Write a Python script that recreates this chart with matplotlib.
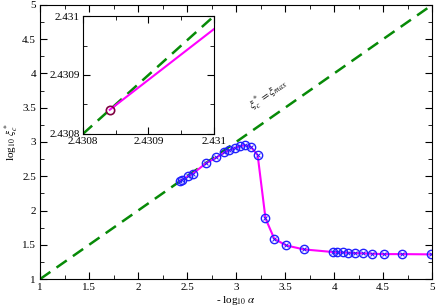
import numpy as np
import matplotlib.pyplot as plt
from matplotlib.ticker import MultipleLocator

plt.rcParams['font.family'] = ['Liberation Serif', 'DejaVu Serif']
plt.rcParams['mathtext.fontset'] = 'stix'

# data
log_alpha = [2.4308, 2.45, 2.51, 2.56, 2.69, 2.80, 2.88, 2.93, 2.99, 3.04,
             3.09, 3.15, 3.22, 3.30, 3.39, 3.51, 3.69, 3.99, 4.03, 4.09,
             4.14, 4.21, 4.29, 4.39, 4.51, 4.69, 4.99]
log_xi = [2.4308, 2.45, 2.50, 2.54, 2.687, 2.774, 2.847, 2.88, 2.914, 2.939,
          2.953, 2.929, 2.808, 1.885, 1.587, 1.491, 1.433, 1.394, 1.389, 1.388,
          1.383, 1.379, 1.375, 1.369, 1.364, 1.364, 1.360]
diag = [1, 5]

# inset (zoom near first point)
in_diag = [2.4308, 2.431]
in_x = [2.430841, 2.431]
in_y = [2.430841, 2.430978]

fig = plt.figure(figsize=(4.36, 3.08), dpi=100)
ax = fig.add_axes([0.092, 0.094, 0.899, 0.89])

ax.plot(diag, diag, '--', color='#078a07', lw=1.8, dashes=(5, 3))
ax.plot(log_alpha, log_xi, '-', color='#ff00ff', lw=1.5)
ax.plot(log_alpha, log_xi, 'o', ms=6, mfc='none', mec='#2020ff', mew=1.0)
ax.plot(log_alpha, log_xi, 'x', ms=3, color='#2020ff', mew=0.7)

ax.set_xlim(1, 5)
ax.set_ylim(1, 5)
ax.xaxis.set_major_locator(MultipleLocator(0.5))
ax.xaxis.set_minor_locator(MultipleLocator(0.25))
ax.yaxis.set_major_locator(MultipleLocator(0.5))
ax.yaxis.set_minor_locator(MultipleLocator(0.25))
ax.tick_params(which='both', direction='in', top=True, right=True, labelsize=8, pad=3)
ax.tick_params(which='major', length=5)
ax.tick_params(which='minor', length=3)
ax.xaxis.set_major_formatter(plt.FuncFormatter(lambda v, p: '%g' % v))
ax.yaxis.set_major_formatter(plt.FuncFormatter(lambda v, p: '%g' % v))

ax.set_xlabel(r'- log$_{10}$ $\alpha$', fontsize=8, labelpad=1)
ax.set_ylabel(r'log$_{10}$ $\xi^*_c$', fontsize=8, labelpad=1)

ax.text(3.33, 3.68, r'$\xi^*_c = \xi_{max}$', fontsize=8, rotation=35,
        ha='center', va='center')

ins = fig.add_axes([0.190, 0.565, 0.301, 0.383])
ins.plot(in_diag, in_diag, '--', color='#078a07', lw=1.8, dashes=(5, 3))
ins.plot(in_x, in_y, '-', color='#ff00ff', lw=1.5)
ins.plot(in_x[:1], in_y[:1], 'o', ms=6, mfc='none', mec='#800040', mew=1.2)
ins.set_xlim(2.4308, 2.431)
ins.set_ylim(2.4308, 2.431)
ins.set_xticks([2.4308, 2.4309, 2.431])
ins.set_yticks([2.4308, 2.4309, 2.431])
ins.set_xticklabels(['2.4308', '2.4309', '2.431'])
ins.set_yticklabels(['2.4308', '2.4309', '2.431'])
ins.xaxis.set_minor_locator(MultipleLocator(0.00005))
ins.yaxis.set_minor_locator(MultipleLocator(0.00005))
ins.tick_params(which='both', direction='in', top=True, right=True, labelsize=8, pad=2)
ins.tick_params(which='major', length=5)
ins.tick_params(which='minor', length=3)

fig.savefig('out.png', dpi=100)
